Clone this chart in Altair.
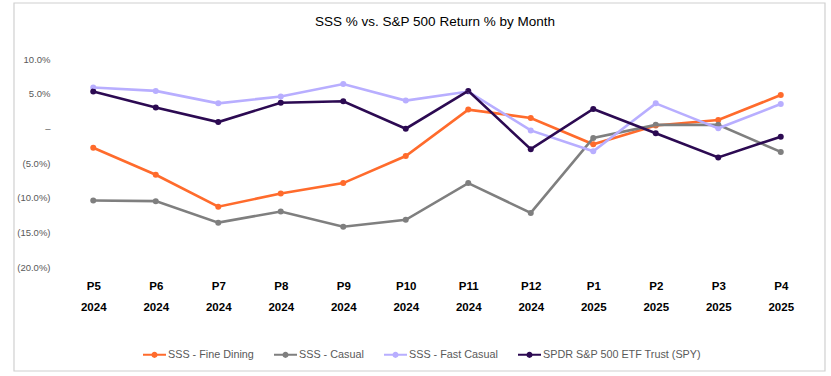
import altair as alt
import pandas as pd

periods = ["P5 2024", "P6 2024", "P7 2024", "P8 2024", "P9 2024", "P10 2024",
           "P11 2024", "P12 2024", "P1 2025", "P2 2025", "P3 2025", "P4 2025"]
series_names = ["SSS - Fine Dining", "SSS - Casual", "SSS - Fast Casual",
                "SPDR S&P 500 ETF Trust (SPY)"]
fine_dining = [-2.8, -6.7, -11.3, -9.4, -7.9, -4.0, 2.7, 1.5, -2.3, 0.4, 1.2, 4.8]
casual = [-10.4, -10.5, -13.6, -12.0, -14.2, -13.2, -7.9, -12.2, -1.4, 0.5, 0.5, -3.4]
fast_casual = [5.9, 5.4, 3.6, 4.6, 6.4, 4.0, 5.3, -0.3, -3.3, 3.6, 0.0, 3.5]
spy = [5.3, 3.0, 0.9, 3.7, 3.9, -0.05, 5.4, -3.0, 2.8, -0.7, -4.2, -1.2]
colors = ["#FF6B2C", "#7F7F7F", "#B8AEFF", "#2C0A52"]
y_ticks = [-20, -15, -10, -5, 0, 5, 10]

rows = []
for name, vals in zip(series_names, [fine_dining, casual, fast_casual, spy]):
    for i, (p, v) in enumerate(zip(periods, vals)):
        rows.append({"period": p, "idx": i, "series": name, "value": v})
df = pd.DataFrame(rows)

FONT = "Liberation Sans, Arial, Helvetica"

legend_path = ("M-1,-0.085H1V0.085H-1Z "
               "M-0.27,0A0.27,0.27 0 1,1 0.27,0A0.27,0.27 0 1,1 -0.27,0Z")

x_enc = alt.X("period:N", sort=periods, scale=alt.Scale(type="point", padding=0.5),
              axis=alt.Axis(title=None, labelAngle=0, domain=False, ticks=False,
                            labelExpr="split(datum.label, ' ')",
                            labelFont=FONT,
                            labelFontWeight="bold", labelFontSize=11.5, labelColor="#000000",
                            labelLineHeight=21, labelPadding=13, labelBaseline="top"))
y_enc = alt.Y("value:Q", scale=alt.Scale(domain=[-20, 10], nice=False, zero=False),
              axis=alt.Axis(title=None, values=y_ticks, grid=False, domain=False, ticks=False,
                            labelExpr="datum.value == 0 ? '–' : (datum.value > 0 ? format(datum.value/100, '.1%') : '(' + format(-datum.value/100, '.1%') + ')')",
                            labelFont=FONT, labelFontSize=9.5,
                            labelColor="#595959", labelPadding=12))
color_scale = alt.Scale(domain=series_names, range=colors)
color_enc = alt.Color("series:N", sort=series_names, scale=color_scale,
                      legend=alt.Legend(title=None, orient="none", direction="horizontal",
                                        legendX=81, legendY=284,
                                        symbolType=legend_path, symbolSize=529,
                                        symbolStrokeWidth=0, labelOffset=2,
                                        columnPadding=20, labelLimit=400,
                                        labelFont=FONT,
                                        labelFontSize=10.8, labelColor="#595959"))

base = alt.Chart(df)
points = base.mark_point(filled=True, size=36, opacity=1).encode(
    x=x_enc, y=y_enc, color=color_enc)
lines = base.mark_line(strokeWidth=2.6).encode(
    x=x_enc, y=y_enc,
    color=alt.Color("series:N", sort=series_names, scale=color_scale, legend=None),
    order=alt.Order("idx:Q"))

frame = alt.Chart(pd.DataFrame({"a": [0]})).mark_rect(
    fillOpacity=0, stroke="#D0D0D0", strokeWidth=1.2).encode(
    x=alt.value(-48), x2=alt.value(763), y=alt.value(-56), y2=alt.value(312))

chart = alt.layer(frame, points, lines).properties(
    width=750, height=208,
    padding={"left": 62, "top": 59, "right": 19, "bottom": 109},
    autosize=alt.AutoSizeParams(type="none"),
    title=alt.TitleParams("SSS % vs. S&P 500 Return % by Month",
                          font=FONT,
                          fontSize=13.5, fontWeight="normal", color="#000000",
                          anchor="middle", baseline="alphabetic", offset=0,
                          dx=-2, dy=37)
).configure_view(stroke=None)

chart.save("out.html", embed_options={"renderer": "svg", "actions": False})
